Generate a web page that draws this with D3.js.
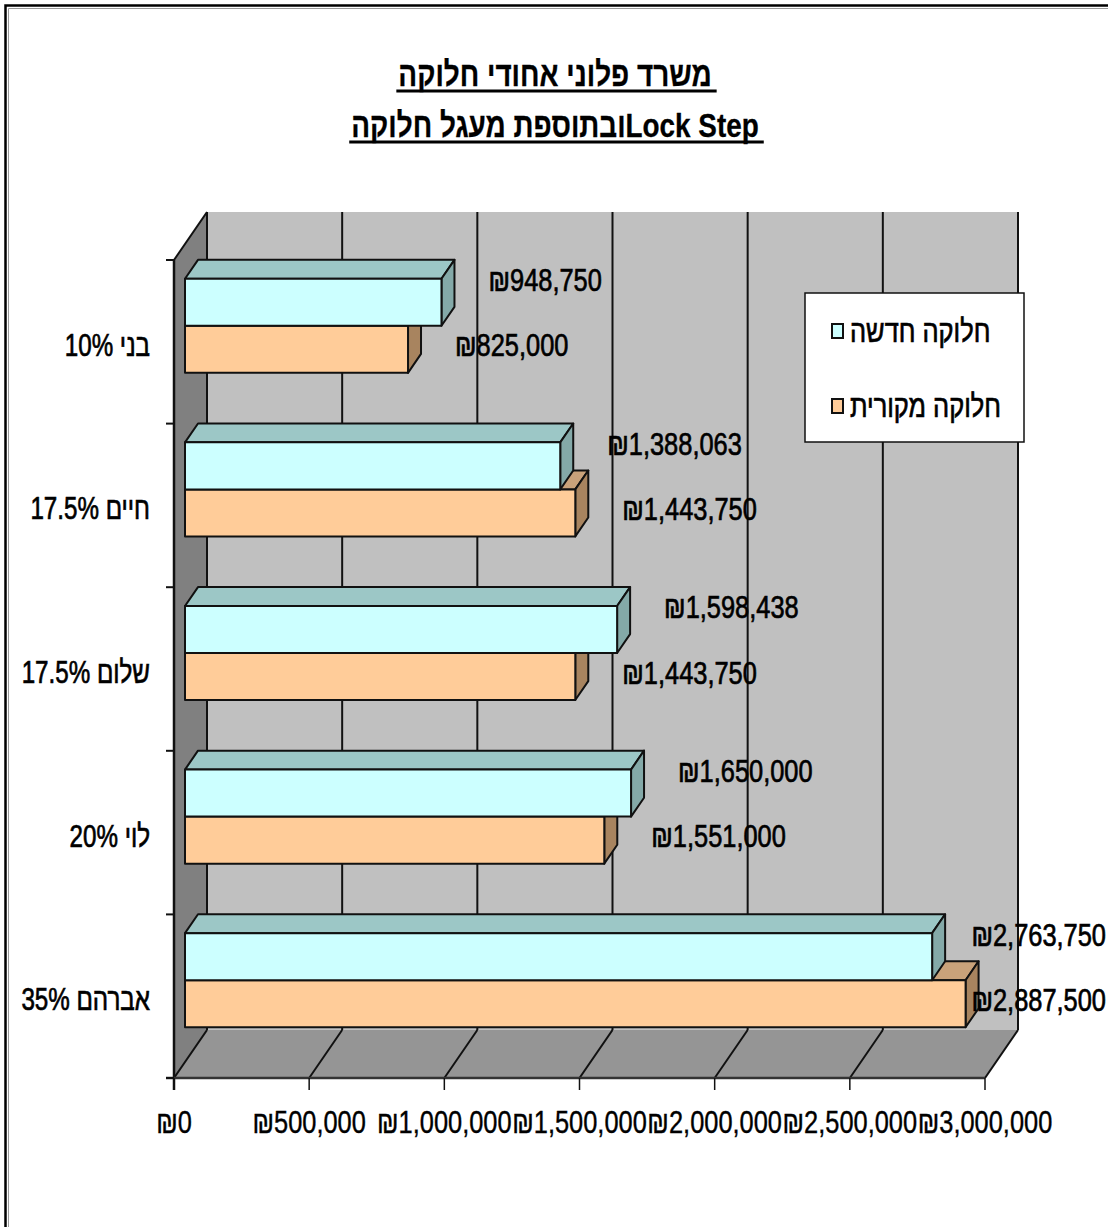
<!DOCTYPE html>
<html>
<head>
<meta charset="utf-8">
<script src="https://cdn.jsdelivr.net/npm/d3@7"></script>
<style>
  html, body { margin: 0; padding: 0; background: #fff; }
  svg { display: block; }
  text { font-family: "Liberation Sans", Arial, "DejaVu Sans", sans-serif; fill: #000; }
</style>
</head>
<body>
<svg id="chart" width="1108" height="1227"></svg>
<script>
// ---- data ----
const categories = ["בני 10%", "חיים 17.5%", "שלום 17.5%", "לוי 20%", "אברהם 35%"];
const seriesNames = ["חלוקה חדשה", "חלוקה מקורית"];
const newShare = [948750, 1388063, 1598438, 1650000, 2763750];
const originalShare = [825000, 1443750, 1443750, 1551000, 2887500];
const tickValues = [0, 500000, 1000000, 1500000, 2000000, 2500000, 3000000];
const titleLines = ["משרד פלוני אחודי חלוקה", "Lock Stepובתוספת מעגל חלוקה"];

// ---- styling ----
const seriesFill = {
  "חלוקה חדשה": { front: "#ccffff", top: "#9cc7c6", side: "#84a9a8" },
  "חלוקה מקורית": { front: "#ffcc99", top: "#c9a27a", side: "#a8845f" }
};
const NARROW = 0.82;      // horizontal squeeze for a condensed look
const FS = 31;            // base label font size

const svg = d3.select("#chart");

// ---- 3D box geometry ----
const X0 = 174, X1 = 985;        // front plane, value axis extent
const YTOP = 260, YBOT = 1078;   // front plane, category axis extent
const DX = 33, DY = -48;         // full depth offset
const ZF = 1 / 3, ZB = 0.727;    // bar front / back depth

const proj = (x, y, z) => [x + DX * z, y + DY * z];

const x = d3.scaleLinear().domain([0, 3000000]).range([X0, X1]);
const y = d3.scaleBand().domain(categories).range([YTOP, YBOT])
  .paddingInner(0.425).paddingOuter(0.2125);
const sub = d3.scaleBand().domain(seriesNames).range([0, y.bandwidth()]);

const fmt = v => "₪" + d3.format(",")(v);

// text drawn in a horizontally squeezed group; for rtl text,
// "start" is the right edge and "end" the left edge
function label(parent, px, py, str, opts = {}) {
  const g = parent.append("g")
    .attr("transform", `translate(${px},${py}) scale(${opts.narrow || NARROW},1)`);
  const t = g.append("text")
    .attr("x", 0).attr("y", 0)
    .attr("font-size", opts.size || FS)
    .attr("font-weight", opts.weight || "normal")
    .attr("text-anchor", opts.anchor || "start")
    .attr("stroke", "#000")
    .attr("stroke-width", opts.stroke == null ? 0.7 : opts.stroke)
    .text(str);
  if (opts.rtl) t.attr("direction", "rtl");
  return { g, t };
}

// ---- outer frame ----
svg.append("path").attr("d", "M5.5,1227 V5.5 H1108")
  .attr("fill", "none").attr("stroke", "#000").attr("stroke-width", 2.5);
svg.append("path").attr("d", "M8.5,1227 V8.5 H1108")
  .attr("fill", "none").attr("stroke", "#9a9a9a").attr("stroke-width", 1);

// ---- title ----
const titleG = svg.append("g");
const titleBase = [86, 137];
titleLines.forEach((line, i) => {
  const { t } = label(titleG, 555, titleBase[i], line,
    { size: 34, weight: "bold", anchor: "middle", rtl: true, stroke: 0.3 });
  const w = t.node().getComputedTextLength() * NARROW;
  titleG.append("line")
    .attr("x1", 555 - w / 2 - 2).attr("x2", 555 + w / 2 + 5)
    .attr("y1", titleBase[i] + 5).attr("y2", titleBase[i] + 5)
    .attr("stroke", "#000").attr("stroke-width", 3);
});

// ---- walls and floor ----
const plot = svg.append("g");
const pts = a => a.map(p => p.join(",")).join(" ");

// back wall
plot.append("polygon")
  .attr("points", pts([proj(X0, YTOP, 1), proj(X1, YTOP, 1), proj(X1, YBOT, 1), proj(X0, YBOT, 1)]))
  .attr("fill", "#c0c0c0");
// side wall
plot.append("polygon")
  .attr("points", pts([[X0, YTOP], proj(X0, YTOP, 1), proj(X0, YBOT, 1), [X0, YBOT]]))
  .attr("fill", "#808080");
// floor
plot.append("polygon")
  .attr("points", pts([[X0, YBOT], [X1, YBOT], proj(X1, YBOT, 1), proj(X0, YBOT, 1)]))
  .attr("fill", "#959595");

// gridlines on the back wall and floor
tickValues.forEach(v => {
  const a = proj(x(v), YTOP, 1), b = proj(x(v), YBOT, 1);
  plot.append("line").attr("x1", a[0]).attr("y1", a[1]).attr("x2", b[0]).attr("y2", b[1])
    .attr("stroke", "#111").attr("stroke-width", 2);
  plot.append("line").attr("x1", x(v)).attr("y1", YBOT).attr("x2", b[0]).attr("y2", b[1])
    .attr("stroke", "#111").attr("stroke-width", 2);
});
// side wall top edge
{
  const a = proj(X0, YTOP, 1);
  plot.append("line").attr("x1", X0).attr("y1", YTOP).attr("x2", a[0]).attr("y2", a[1])
    .attr("stroke", "#111").attr("stroke-width", 2);
}

// ---- axes ----
const axisG = svg.append("g");
axisG.append("line").attr("x1", X0).attr("x2", X0).attr("y1", YTOP).attr("y2", YBOT + 12)
  .attr("stroke", "#111").attr("stroke-width", 2.5);
axisG.append("line").attr("x1", X0 - 8).attr("x2", X1).attr("y1", YBOT).attr("y2", YBOT)
  .attr("stroke", "#333").attr("stroke-width", 2.5);
// category boundary ticks
const bounds = d3.range(categories.length + 1).map(i => YTOP + i * y.step());
bounds.forEach(b => {
  axisG.append("line").attr("x1", X0 - 8).attr("x2", X0).attr("y1", b).attr("y2", b)
    .attr("stroke", "#111").attr("stroke-width", 2);
});
// value ticks + labels
tickValues.forEach(v => {
  axisG.append("line").attr("x1", x(v)).attr("x2", x(v)).attr("y1", YBOT).attr("y2", YBOT + 12)
    .attr("stroke", "#111").attr("stroke-width", 1.5);
  label(axisG, x(v), 1133, fmt(v), { anchor: "middle", stroke: 0.4 });
});
// category labels (right edge at x = 150)
categories.forEach(c => {
  label(axisG, 150, y(c) + y.bandwidth() / 2 + 14, c,
    { anchor: "start", rtl: true, narrow: 0.78 });
});

// ---- bars ----
const rows = categories.map((c, i) => ({
  cat: c,
  items: [
    { s: seriesNames[0], v: newShare[i] },
    { s: seriesNames[1], v: originalShare[i] }
  ]
}));

const barsG = svg.append("g");
rows.forEach(r => {
  // lower series first so the upper bar covers its top face
  [...r.items].reverse().forEach(d => {
    const y0 = y(r.cat) + sub(d.s), y1 = y0 + sub.bandwidth();
    const xa = x(0), xb = x(d.v);
    const col = seriesFill[d.s];
    const g = barsG.append("g").attr("stroke", "#111").attr("stroke-width", 2)
      .attr("stroke-linejoin", "round");
    g.append("polygon").attr("fill", col.top)
      .attr("points", pts([proj(xa, y0, ZF), proj(xb, y0, ZF), proj(xb, y0, ZB), proj(xa, y0, ZB)]));
    g.append("polygon").attr("fill", col.side)
      .attr("points", pts([proj(xb, y0, ZF), proj(xb, y0, ZB), proj(xb, y1, ZB), proj(xb, y1, ZF)]));
    g.append("polygon").attr("fill", col.front)
      .attr("points", pts([proj(xa, y0, ZF), proj(xb, y0, ZF), proj(xb, y1, ZF), proj(xa, y1, ZF)]));
  });
});

// ---- value labels ----
const valG = svg.append("g");
rows.forEach(r => {
  r.items.forEach((d, k) => {
    const y0 = y(r.cat) + sub(d.s), y1 = y0 + sub.bandwidth();
    const front = proj(x(d.v), (y0 + y1) / 2, ZF);
    const cy = front[1] + (k === 0 ? -22 : -4);
    const { g, t } = label(valG, 0, 0, fmt(d.v));
    const w = t.node().getComputedTextLength() * NARROW;
    const lx = Math.min(front[0] + 47, 1106 - w);
    g.attr("transform", `translate(${lx},${cy + 11}) scale(${NARROW},1)`);
  });
});

// ---- legend ----
const legG = svg.append("g");
legG.append("rect").attr("x", 805).attr("y", 293).attr("width", 219).attr("height", 149)
  .attr("fill", "#fff").attr("stroke", "#111").attr("stroke-width", 1.5);
seriesNames.forEach((s, i) => {
  const cy = 331 + i * 75;
  legG.append("rect").attr("x", 832).attr("y", cy - 7).attr("width", 11).attr("height", 14)
    .attr("fill", seriesFill[s].front).attr("stroke", "#111").attr("stroke-width", 2);
  // left edge of the text at x = 850
  label(legG, 850, cy + 11, s, { rtl: true, anchor: "end" });
});
</script>
</body>
</html>
